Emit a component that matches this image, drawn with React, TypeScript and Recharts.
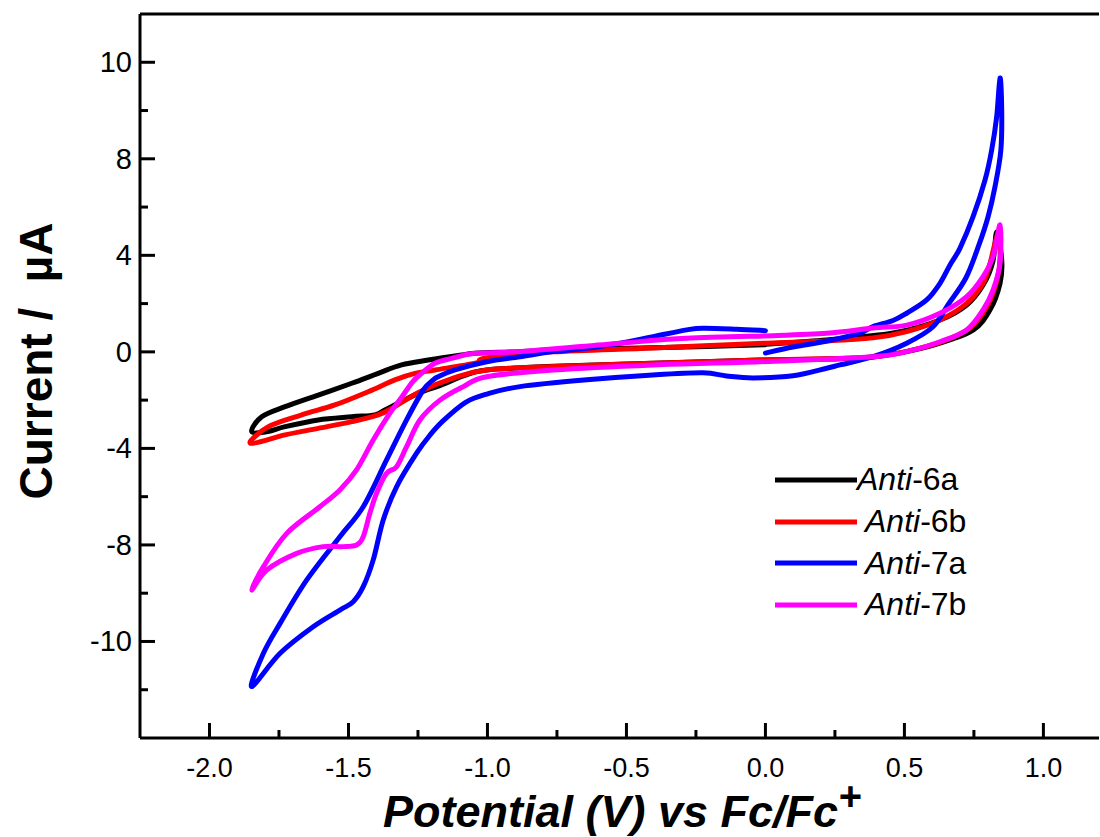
import { LineChart, Line, XAxis, YAxis, ReferenceLine, Legend } from 'recharts';

// potential (V vs Fc/Fc+), current (uA) — traced in scan order
const anti6a: [number, number][] = [
  [0.0, 0.32], [0.22, 0.49], [0.459, 0.78], [0.628, 1.32], [0.724, 1.94], [0.783, 2.77],
  [0.818, 3.73], [0.832, 4.97], [0.85, 3.81], [0.844, 2.84], [0.808, 1.74], [0.748, 0.91],
  [0.628, 0.36], [0.508, 0.01], [0.387, -0.21], [0.22, -0.3], [-0.02, -0.34], [-0.404, -0.47],
  [-0.763, -0.6], [-1.003, -0.75], [-1.087, -1.0], [-1.165, -1.37], [-1.237, -1.66],
  [-1.309, -2.06], [-1.369, -2.41], [-1.405, -2.61], [-1.488, -2.69], [-1.609, -2.82],
  [-1.728, -3.1], [-1.79, -3.3], [-1.848, -3.3], [-1.812, -2.69], [-1.728, -2.27],
  [-1.609, -1.79], [-1.488, -1.3], [-1.393, -0.89], [-1.309, -0.54], [-1.213, -0.34],
  [-1.093, -0.13], [-1.045, -0.06], [-0.883, 0.01], [-0.643, 0.12], [-0.283, 0.2], [0.0, 0.3],
];

const anti6b: [number, number][] = [
  [0.0, 0.36], [0.22, 0.45], [0.387, 0.58], [0.508, 0.84], [0.628, 1.32], [0.724, 2.01],
  [0.783, 2.84], [0.808, 3.67], [0.837, 4.92], [0.844, 3.89], [0.833, 2.98], [0.8, 1.94],
  [0.736, 0.99], [0.628, 0.39], [0.508, 0.02], [0.387, -0.21], [0.22, -0.29], [-0.02, -0.34],
  [-0.404, -0.47], [-0.763, -0.61], [-1.003, -0.75], [-1.123, -1.09], [-1.243, -1.65],
  [-1.333, -2.27], [-1.393, -2.61], [-1.488, -2.89], [-1.609, -3.17], [-1.728, -3.44],
  [-1.853, -3.79], [-1.788, -3.1], [-1.668, -2.61], [-1.549, -2.2], [-1.429, -1.65],
  [-1.333, -1.16], [-1.261, -0.89], [-1.189, -0.75], [-1.045, -0.47], [-1.003, -0.25],
  [-0.764, 0.0], [-0.404, 0.16], [0.0, 0.36],
];

const anti7a: [number, number][] = [
  [0.0, -0.05], [0.099, 0.2], [0.221, 0.45], [0.34, 0.78], [0.387, 1.05], [0.459, 1.3],
  [0.508, 1.6], [0.58, 2.15], [0.628, 2.84], [0.664, 3.6], [0.7, 4.3], [0.747, 5.6],
  [0.79, 7.12], [0.814, 8.37], [0.832, 9.75], [0.844, 11.35], [0.85, 10.03], [0.847, 8.37],
  [0.826, 6.85], [0.801, 5.6], [0.768, 4.43], [0.721, 3.06], [0.656, 1.94], [0.602, 1.03],
  [0.508, 0.36], [0.387, -0.2], [0.268, -0.54], [0.22, -0.68], [0.099, -0.99], [-0.045, -1.08],
  [-0.14, -1.0], [-0.225, -0.87], [-0.405, -0.96], [-0.642, -1.16], [-0.883, -1.44],
  [-1.003, -1.75], [-1.08, -2.1], [-1.159, -2.85], [-1.207, -3.45], [-1.255, -4.2],
  [-1.327, -5.59], [-1.375, -6.97], [-1.411, -8.62], [-1.447, -9.73], [-1.483, -10.35],
  [-1.531, -10.7], [-1.627, -11.39], [-1.746, -12.49], [-1.848, -13.87], [-1.806, -12.49],
  [-1.746, -11.25], [-1.65, -9.45], [-1.531, -7.66], [-1.447, -6.42], [-1.363, -4.48],
  [-1.291, -2.82], [-1.231, -1.58], [-1.195, -1.16], [-1.177, -1.03], [-1.117, -0.75],
  [-1.003, -0.41], [-0.883, -0.2], [-0.763, 0.01], [-0.643, 0.15], [-0.523, 0.36],
  [-0.404, 0.63], [-0.283, 0.91], [-0.224, 0.98], [-0.104, 0.94], [0.0, 0.88],
];

const anti7b: [number, number][] = [
  [0.0, 0.66], [0.22, 0.77], [0.387, 0.99], [0.508, 1.11], [0.628, 1.6], [0.724, 2.29],
  [0.783, 3.12], [0.819, 3.95], [0.844, 5.26], [0.844, 3.67], [0.819, 2.57], [0.783, 1.74],
  [0.724, 0.91], [0.628, 0.42], [0.508, 0.01], [0.387, -0.2], [-0.02, -0.41], [-0.404, -0.54],
  [-0.763, -0.75], [-1.003, -1.03], [-1.087, -1.44], [-1.171, -2.0], [-1.243, -2.82],
  [-1.291, -3.93], [-1.327, -4.76], [-1.363, -5.03], [-1.399, -5.86], [-1.423, -6.69],
  [-1.447, -7.66], [-1.471, -8.0], [-1.519, -8.07], [-1.591, -8.07], [-1.686, -8.35],
  [-1.794, -9.04], [-1.848, -9.87], [-1.806, -8.9], [-1.722, -7.52], [-1.603, -6.42],
  [-1.531, -5.72], [-1.471, -4.89], [-1.411, -3.65], [-1.351, -2.54], [-1.31, -1.9],
  [-1.27, -1.25], [-1.237, -0.89], [-1.189, -0.47], [-1.129, -0.27], [-1.045, -0.06],
  [-0.883, 0.01], [-0.523, 0.36], [-0.283, 0.56], [0.0, 0.66],
];

const xTicks = [-2.0, -1.75, -1.5, -1.25, -1.0, -0.75, -0.5, -0.25, 0.0, 0.25, 0.5, 0.75, 1.0];
const xMajor = [-2.0, -1.5, -1.0, -0.5, 0.0, 0.5, 1.0];
const yTicks = [-14, -12, -10, -8, -6, -4, -2, 0, 2, 4, 6, 8, 10, 12];
const yMajor = [-12, -8, -4, 0, 4, 8, 12];
const yMajorLabels = ['-10', '-8', '-4', '0', '4', '8', '10'];

const series = [
  { name: '6a', color: '#000000', data: anti6a },
  { name: '6b', color: '#ff0000', data: anti6b },
  { name: '7a', color: '#0000ff', data: anti7a },
  { name: '7b', color: '#ff00ff', data: anti7b },
];

const FONT = '"Liberation Sans", Arial, sans-serif';

const toPoints = (arr: [number, number][]) => arr.map(([x, y]) => ({ x, y }));

// catmull-rom through the traced points, so loops keep their order
function smoothCurve(context: any) {
  let pts: [number, number][] = [];
  return {
    areaStart() {},
    areaEnd() {},
    lineStart() {
      pts = [];
    },
    point(x: number, y: number) {
      pts.push([+x, +y]);
    },
    lineEnd() {
      if (!pts.length) return;
      context.moveTo(pts[0][0], pts[0][1]);
      const k = 1 / 6;
      for (let i = 0; i < pts.length - 1; i++) {
        const p0 = pts[i - 1] || pts[i];
        const p1 = pts[i];
        const p2 = pts[i + 1];
        const p3 = pts[i + 2] || p2;
        context.bezierCurveTo(
          p1[0] + (p2[0] - p0[0]) * k,
          p1[1] + (p2[1] - p0[1]) * k,
          p2[0] - (p3[0] - p1[0]) * k,
          p2[1] - (p3[1] - p1[1]) * k,
          p2[0],
          p2[1],
        );
      }
    },
  };
}

function XTick(props: any) {
  const { x, y, payload } = props;
  const major = xMajor.includes(payload.value);
  return (
    <g>
      <line x1={x} x2={x} y1={y} y2={y - (major ? 15 : 8)} stroke="#000" strokeWidth={3} />
      {major && (
        <text x={x} y={y} dy={39} textAnchor="middle" fontSize={27} fontFamily={FONT} fill="#000">
          {payload.value.toFixed(1)}
        </text>
      )}
    </g>
  );
}

function YTick(props: any) {
  const { x, y, payload } = props;
  const i = yMajor.indexOf(payload.value);
  return (
    <g>
      <line x1={x} x2={x + (i >= 0 ? 15 : 8)} y1={y} y2={y} stroke="#000" strokeWidth={3} />
      {i >= 0 && (
        <text x={x - 8} y={y} dy={10} textAnchor="end" fontSize={29} fontFamily={FONT} fill="#000">
          {yMajorLabels[i]}
        </text>
      )}
    </g>
  );
}

function XTitle() {
  return (
    <text x={383} y={827} fontSize={45} fontWeight="bold" fontStyle="italic" fontFamily={FONT} fill="#000">
      Potential (V) vs Fc/Fc
      <tspan dy={-17} fontSize={40}>+</tspan>
    </text>
  );
}

function YTitle() {
  return (
    <text
      x={52}
      y={361}
      transform="rotate(-90 52 361)"
      textAnchor="middle"
      fontSize={46}
      fontWeight="bold"
      fontFamily={FONT}
      fill="#000"
      style={{ whiteSpace: 'pre' }}
    >
      {'Current /  \u00b5A'}
    </text>
  );
}

function LegendBox() {
  return (
    <div style={{ fontFamily: FONT, fontSize: 32, color: '#000' }}>
      {series.map((s, i) => (
        <div key={s.name} style={{ display: 'flex', alignItems: 'center', height: 41.7 }}>
          <svg width={82} height={10}>
            <line x1={0} x2={82} y1={5} y2={5} stroke={s.color} strokeWidth={5} />
          </svg>
          <span style={{ marginLeft: i === 0 ? 0 : 8, whiteSpace: 'nowrap' }}>
            <i>Anti</i>-{s.name}
          </span>
        </div>
      ))}
    </div>
  );
}

export default function App() {
  return (
    <div style={{ position: 'absolute', left: 0, top: 0, width: 1100, height: 837, background: '#fff' }}>
      <LineChart width={1100} height={837} margin={{ top: 14, right: 1, bottom: 69, left: 80 }}>
        <XAxis
          type="number"
          dataKey="x"
          domain={[-2.25, 1.2]}
          allowDataOverflow
          ticks={xTicks}
          interval={0}
          tickSize={0}
          tickMargin={0}
          tickLine={false}
          tick={<XTick />}
          height={30}
          axisLine={{ stroke: '#000', strokeWidth: 3 }}
          label={<XTitle />}
        />
        <YAxis
          type="number"
          dataKey="y"
          domain={[-16, 14]}
          allowDataOverflow
          ticks={yTicks}
          interval={0}
          tickSize={0}
          tickMargin={0}
          tickLine={false}
          tick={<YTick />}
          width={60}
          axisLine={{ stroke: '#000', strokeWidth: 3 }}
          label={<YTitle />}
        />
        <ReferenceLine y={14} stroke="#000" strokeWidth={3} />
        <Legend
          layout="horizontal"
          verticalAlign="middle"
          align="center"
          wrapperStyle={{ left: 775, top: 459, width: 260 }}
          content={() => <LegendBox />}
        />
        {series.map((s) => (
          <Line
            key={s.name}
            data={toPoints(s.data)}
            dataKey="y"
            type={smoothCurve as any}
            stroke={s.color}
            strokeWidth={5}
            strokeLinejoin="round"
            strokeLinecap="round"
            dot={false}
            activeDot={false}
            isAnimationActive={false}
          />
        ))}
      </LineChart>
    </div>
  );
}
